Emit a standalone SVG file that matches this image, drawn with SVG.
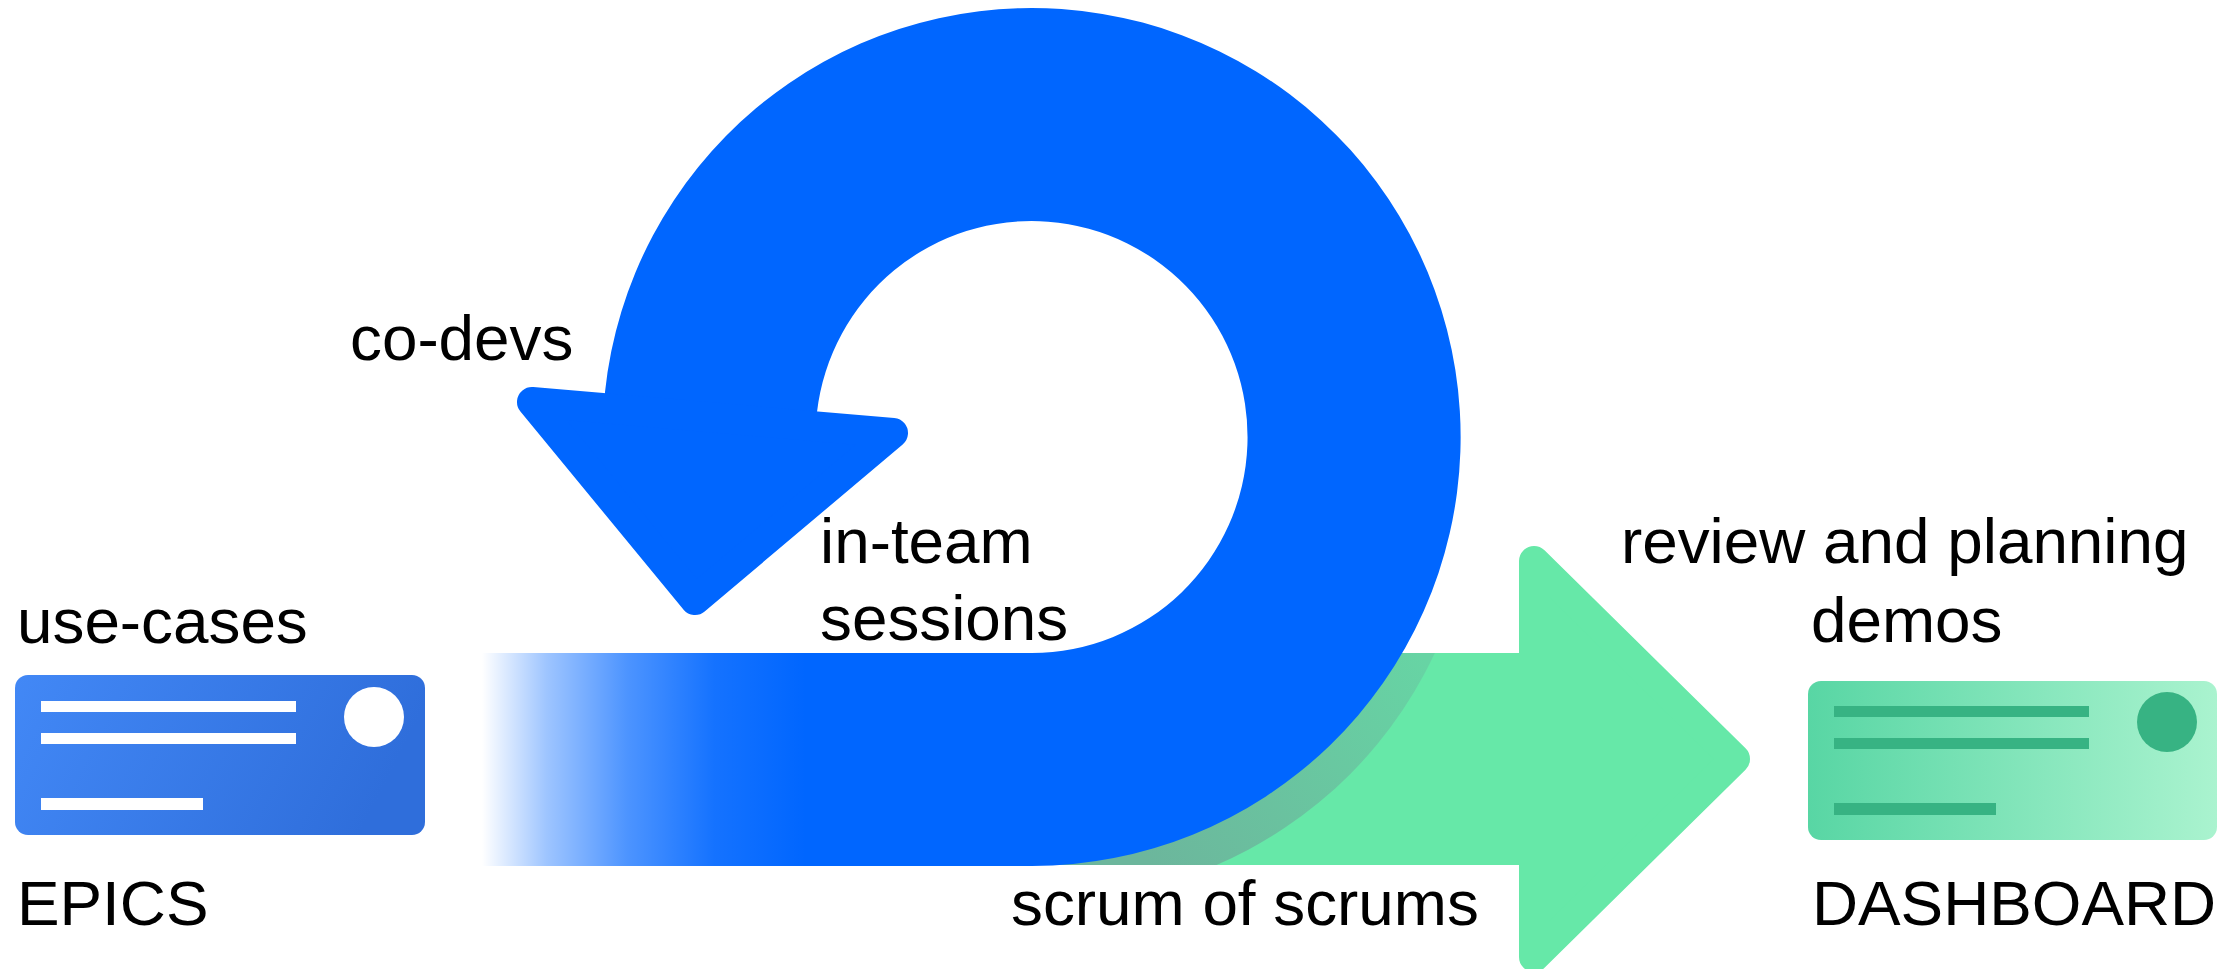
<svg xmlns="http://www.w3.org/2000/svg" width="2237" height="969" viewBox="0 0 2237 969">
<style>
text{font-family:"Liberation Sans",Arial,sans-serif;font-size:63.8px;fill:#000}
.wl{fill:#fff}
.gl{fill:#37b383}
.blue{fill:#0066ff}
.bluej{fill:#0066ff;stroke:#0066ff;stroke-width:30;stroke-linejoin:round}
.green{fill:#66e8a8;stroke:#66e8a8;stroke-width:30;stroke-linejoin:round}
</style>
<defs>
<linearGradient id="fade" gradientUnits="userSpaceOnUse" x1="482" y1="0" x2="805" y2="0">
<stop offset="0" stop-color="#0066ff" stop-opacity="0"/>
<stop offset="0.2" stop-color="#0066ff" stop-opacity="0.38"/>
<stop offset="0.45" stop-color="#0066ff" stop-opacity="0.7"/>
<stop offset="0.72" stop-color="#0066ff" stop-opacity="0.92"/>
<stop offset="1" stop-color="#0066ff"/>
</linearGradient>
<linearGradient id="card1" x1="0" y1="0" x2="1" y2="0.2">
<stop offset="0" stop-color="#4288f6"/><stop offset="1" stop-color="#2f6edb"/>
</linearGradient>
<linearGradient id="card2" x1="0" y1="0" x2="1" y2="0">
<stop offset="0" stop-color="#58d6a4"/><stop offset="1" stop-color="#aaf3cf"/>
</linearGradient>
<linearGradient id="shade" gradientUnits="userSpaceOnUse" x1="1420" y1="653" x2="1150" y2="865">
<stop offset="0" stop-color="#67d4a4"/><stop offset="1" stop-color="#6cb69c"/>
</linearGradient>
<clipPath id="shaft"><rect x="1000" y="653" width="519" height="212"/></clipPath>
</defs>

<g id="green-arrow">
<rect x="1000" y="653" width="530" height="212" fill="#66e8a8"/>
<polygon class="green" points="1534,561 1735,759 1534,957"/>
<circle cx="1047" cy="472" r="428" fill="url(#shade)" clip-path="url(#shaft)"/>
</g>

<g id="blue-loop">
<rect x="482" y="653" width="550" height="213" fill="url(#fade)"/>
<path class="blue" d="M605,392 A429,429 0 1 1 1032,866 L1032,653 A216,216 0 1 0 817,412 L817,440 L605,420 Z"/>
<polygon class="bluej" points="532,402 893,433 695,600"/>
</g>

<g id="epics-card">
<rect x="15" y="675" width="410" height="160" rx="13" fill="url(#card1)"/>
<rect class="wl" x="41" y="701" width="255" height="11"/>
<rect class="wl" x="41" y="733" width="255" height="11"/>
<rect class="wl" x="41" y="798" width="162" height="12"/>
<circle class="wl" cx="374" cy="717" r="30"/>
</g>

<g id="dashboard-card">
<rect x="1808" y="681" width="409" height="159" rx="13" fill="url(#card2)"/>
<rect class="gl" x="1834" y="706" width="255" height="11"/>
<rect class="gl" x="1834" y="738" width="255" height="11"/>
<rect class="gl" x="1834" y="803" width="162" height="12"/>
<circle class="gl" cx="2167" cy="722" r="30"/>
</g>

<g id="labels">
<text x="17" y="643">use-cases</text>
<text x="17" y="925">EPICS</text>
<text x="350" y="360">co-devs</text>
<text x="820" y="563">in-team</text>
<text x="820" y="640">sessions</text>
<text x="1621" y="563">review and planning</text>
<text x="1811" y="642">demos</text>
<text x="1011" y="925">scrum of scrums</text>
<text x="1812" y="925">DASHBOARD</text>
</g>
</svg>
